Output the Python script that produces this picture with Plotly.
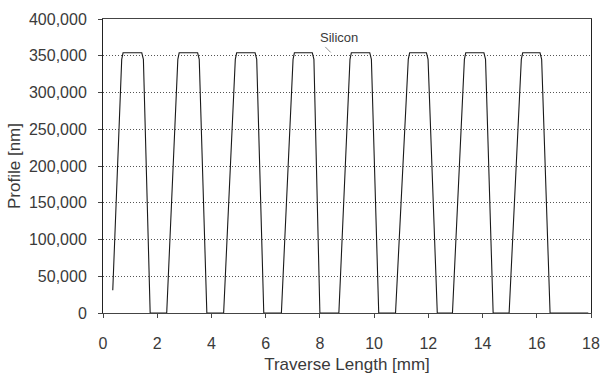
import plotly.graph_objects as go

# Stylus profile across the silicon ridges: traverse position (mm) and height (nm)
traverse_mm = [
    0.36, 0.69, 0.74, 1.43, 1.49, 1.74,
    2.35, 2.76, 2.81, 3.49, 3.55, 3.83,
    4.45, 4.88, 4.93, 5.61, 5.67, 5.93,
    6.58, 7.01, 7.06, 7.72, 7.78, 8.00,
    8.70, 9.11, 9.16, 9.84, 9.90, 10.17,
    10.79, 11.26, 11.31, 11.93, 11.99, 12.33,
    12.89, 13.33, 13.38, 14.05, 14.11, 14.39,
    14.98, 15.43, 15.48, 16.12, 16.18, 16.49,
    17.90,
]
profile_nm = [
    31000, 345000, 354000, 354000, 345000, 0,
    0, 345000, 354000, 354000, 345000, 0,
    0, 345000, 354000, 354000, 345000, 0,
    0, 345000, 354000, 354000, 345000, 0,
    0, 345000, 354000, 354000, 345000, 0,
    0, 345000, 354000, 354000, 345000, 0,
    0, 345000, 354000, 354000, 345000, 0,
    0, 345000, 354000, 354000, 345000, 0,
    0,
]

x_ticks = [0, 2, 4, 6, 8, 10, 12, 14, 16, 18]
y_ticks = [0, 50000, 100000, 150000, 200000, 250000, 300000, 350000, 400000]

FONT = "Liberation Sans, Arial, sans-serif"
TEXT = "#3a3a3a"

fig = go.Figure()
fig.add_trace(go.Scatter(
    x=traverse_mm, y=profile_nm, mode="lines",
    line=dict(color="#1a1a1a", width=1.1),
    showlegend=False, hoverinfo="skip",
))

fig.add_annotation(
    x=8.72, y=375000, text="Silicon", showarrow=False,
    font=dict(family=FONT, size=13, color=TEXT),
)
# short leader stroke under the label
fig.add_shape(type="line", x0=8.2, y0=362000, x1=8.4, y1=354500,
              line=dict(color="#777777", width=0.8))

fig.update_layout(
    width=600, height=374,
    margin=dict(l=103, r=9, t=19, b=61),
    paper_bgcolor="white", plot_bgcolor="white",
    font=dict(family=FONT, size=16, color=TEXT),
    xaxis=dict(
        range=[0, 18], tickvals=x_ticks, ticktext=[str(v) for v in x_ticks],
        showgrid=False, zeroline=False, automargin=False,
        showline=True, linecolor="#444444", linewidth=1, mirror=True,
        ticks="outside", ticklen=4, tickcolor="#444444",
        ticklabelstandoff=12,
        tickfont=dict(family=FONT, size=16, color=TEXT),
        title=dict(text="Traverse Length [mm]", standoff=15,
                   font=dict(family=FONT, size=17, color=TEXT)),
    ),
    yaxis=dict(
        range=[0, 400000], tickvals=y_ticks, tickformat=",d",
        showgrid=True, gridcolor="#555555", griddash="1px,2px", gridwidth=1,
        zeroline=False, automargin=False,
        showline=True, linecolor="#222222", linewidth=1, mirror=True,
        ticks="outside", ticklen=4, tickcolor="#444444",
        ticklabelstandoff=8,
        tickfont=dict(family=FONT, size=16, color=TEXT),
        title=dict(text="Profile [nm]", standoff=4,
                   font=dict(family=FONT, size=17, color=TEXT)),
    ),
)

fig.write_html("out.html")
